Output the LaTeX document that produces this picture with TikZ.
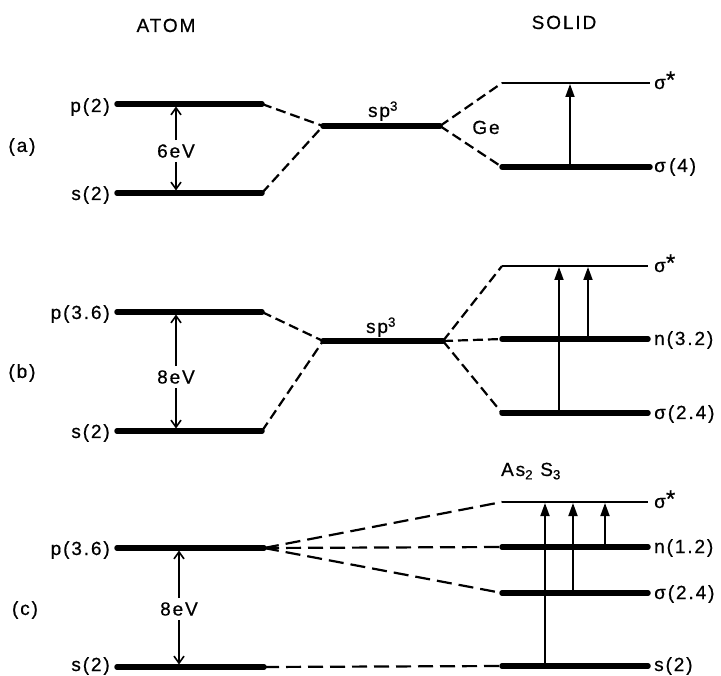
\documentclass[tikz,border=0pt]{standalone}
\usepackage{fontspec}
\setmainfont{Liberation Sans}
\newfontfamily\lfont[LetterSpace=10,FakeBold=0.6]{Liberation Sans}
\usetikzlibrary{arrows.meta}
\newcommand{\sstar}{σ\raisebox{1pt}{\fontsize{24}{24}\selectfont *}}
\begin{document}
\begin{tikzpicture}[x=1pt,y=-1pt,
  lvl/.style={line width=5.5pt,line cap=round},
  thinlvl/.style={line width=2.2pt},
  dline/.style={line width=2.2pt,dash pattern=on 10pt off 5pt},
  dlong/.style={line width=2.2pt,dash pattern=on 15pt off 7pt},
  lbl/.style={font=\lfont\fontsize{19}{21}\selectfont,inner sep=0pt},
  gaplbl/.style={font=\lfont\fontsize{19}{21}\selectfont,inner sep=4pt,fill=white},
  gap/.style={line width=1.6pt,-{Straight Barb[length=7pt,width=10pt,line width=1.6pt]}},
  trans/.style={line width=1.8pt,-{Triangle[length=13pt,width=9pt]}}]
\useasboundingbox (0,0) rectangle (721,676);

% headings
\node[lbl,anchor=base] (hatom) at (166,32) {ATOM};
\node[lbl,anchor=base] (hsolid) at (564,29) {SOLID};

% ================= (a) =================
\coordinate (ap1) at (117,104); \coordinate (ap2) at (262,104);
\coordinate (as1) at (117,193); \coordinate (as2) at (262,193);
\coordinate (asp1) at (323,126); \coordinate (asp2) at (440,126);
\coordinate (ast1) at (502,83); \coordinate (ast2) at (650,83);
\coordinate (asb1) at (502,167); \coordinate (asb2) at (650,167);
\coordinate (atr) at (570,167);

\draw[lvl] (ap1) -- (ap2);
\draw[lvl] (as1) -- (as2);
\draw[lvl] (asp1) -- (asp2);
\draw[thinlvl] (ast1) -- (ast2);
\draw[lvl] (asb1) -- (asb2);
\draw[dline] (ap2) -- (asp1);
\draw[dline] (as2) -- (asp1);
\draw[dline] (asp2) -- (ast1);
\draw[dline] (asp2) -- (asb1);

\node[lbl,anchor=base east] (apl) at (110,112) {p(2)};
\node[lbl,anchor=base east] (asl) at (110,200) {s(2)};
\node[lbl] (alab) at (22,147) {(a)};
\node[gaplbl] (aev) at (176,151) {6eV};
\draw[gap,shorten >=2.5pt] (aev) -- (aev |- ap1);
\draw[gap,shorten >=2.5pt] (aev) -- (aev |- as1);
\node[lbl,anchor=base] (aspl) at (383,117) {sp\textsuperscript{3}};
\node[lbl,anchor=base] (age) at (486,134) {Ge};
\draw[trans,shorten >=1pt] (atr) -- (atr |- ast1);
\node[lbl,anchor=base west] (astl) at (654,89) {\sstar};
\node[lbl,anchor=base west] (asbl) at (654,172) {σ\,(4)};

% ================= (b) =================
\coordinate (bp1) at (117,312); \coordinate (bp2) at (262,312);
\coordinate (bs1) at (117,431); \coordinate (bs2) at (262,431);
\coordinate (bsp1) at (323,341); \coordinate (bsp2) at (443,341);
\coordinate (bst1) at (502,266); \coordinate (bst2) at (648,266);
\coordinate (bn1) at (502,339); \coordinate (bn2) at (648,339);
\coordinate (bsb1) at (502,413); \coordinate (bsb2) at (648,413);
\coordinate (btr1) at (559,413);
\coordinate (btr2) at (588,339);

\draw[lvl] (bp1) -- (bp2);
\draw[lvl] (bs1) -- (bs2);
\draw[lvl] (bsp1) -- (bsp2);
\draw[thinlvl] (bst1) -- (bst2);
\draw[lvl] (bn1) -- (bn2);
\draw[lvl] (bsb1) -- (bsb2);
\draw[dline] (bp2) -- (bsp1);
\draw[dline] (bs2) -- (bsp1);
\draw[dline] (bsp2) -- (bst1);
\draw[dline] (bsp2) -- (bn1);
\draw[dline] (bsp2) -- (bsb1);

\node[lbl,anchor=base east] (bpl) at (110,319) {p(3.6)};
\node[lbl,anchor=base east] (bsl) at (110,438) {s(2)};
\node[lbl] (blab) at (22,373) {(b)};
\node[gaplbl] (bev) at (176,377) {8eV};
\draw[gap,shorten >=2.5pt] (bev) -- (bev |- bp1);
\draw[gap,shorten >=2.5pt] (bev) -- (bev |- bs1);
\node[lbl,anchor=base] (bspl) at (381,333) {sp\textsuperscript{3}};
\draw[trans,shorten >=1pt] (btr1) -- (btr1 |- bst1);
\draw[trans,shorten >=1pt] (btr2) -- (btr2 |- bst1);
\node[lbl,anchor=base west] (bstl) at (654,272) {\sstar};
\node[lbl,anchor=base west] (bnl) at (654,345) {n(3.2)};
\node[lbl,anchor=base west] (bsbl) at (654,419) {σ(2.4)};

% ================= (c) =================
\coordinate (cp1) at (117,548); \coordinate (cp2) at (264,548);
\coordinate (cs1) at (117,667); \coordinate (cs2) at (264,667);
\coordinate (cst1) at (502,502); \coordinate (cst2) at (648,502);
\coordinate (cn1) at (502,547); \coordinate (cn2) at (648,547);
\coordinate (csb1) at (502,593); \coordinate (csb2) at (648,593);
\coordinate (css1) at (502,666); \coordinate (css2) at (648,666);
\coordinate (ctr1) at (545,666);
\coordinate (ctr2) at (573,593);
\coordinate (ctr3) at (605,547);

\draw[lvl] (cp1) -- (cp2);
\draw[lvl] (cs1) -- (cs2);
\draw[thinlvl] (cst1) -- (cst2);
\draw[lvl] (cn1) -- (cn2);
\draw[lvl] (csb1) -- (csb2);
\draw[lvl] (css1) -- (css2);
\draw[dlong] (cp2) -- (cst1);
\draw[dlong] (cp2) -- (cn1);
\draw[dlong] (cp2) -- (csb1);
\draw[dlong] (cs2) -- (css1);

\node[lbl,anchor=base east] (cpl) at (110,555) {p(3.6)};
\node[lbl,anchor=base east] (csl) at (110,671) {s(2)};
\node[lbl] (clab) at (25,610) {(c)};
\node[gaplbl] (cev) at (179,609) {8eV};
\draw[gap,shorten >=2.5pt] (cev) -- (cev |- cp1);
\draw[gap,shorten >=2.5pt] (cev) -- (cev |- cs1);
\node[lbl,anchor=base] (casl) at (531,476) {As\textsubscript{2} S\textsubscript{3}};
\draw[trans,shorten >=1pt] (ctr1) -- (ctr1 |- cst1);
\draw[trans,shorten >=1pt] (ctr2) -- (ctr2 |- cst1);
\draw[trans,shorten >=1pt] (ctr3) -- (ctr3 |- cst1);
\node[lbl,anchor=base west] (cstl) at (654,508) {\sstar};
\node[lbl,anchor=base west] (cnl) at (654,553) {n(1.2)};
\node[lbl,anchor=base west] (csbl) at (654,599) {σ(2.4)};
\node[lbl,anchor=base west] (cssl) at (654,671) {s(2)};
\end{tikzpicture}
\end{document}
